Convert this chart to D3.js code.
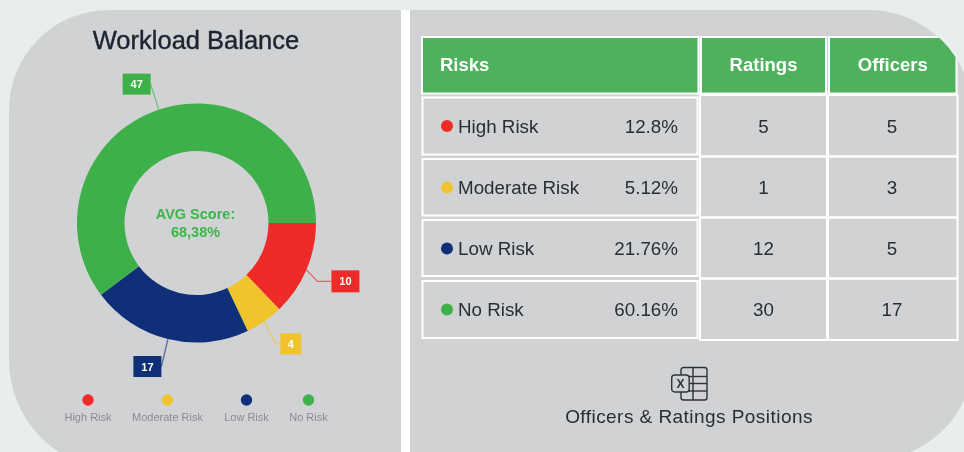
<!DOCTYPE html>
<html>
<head>
<meta charset="utf-8">
<script src="https://d3js.org/d3.v7.min.js"></script>
<style>
  html, body { margin: 0; padding: 0; background: #e8eeec; overflow: hidden; }
  svg { display: block; filter: blur(0.4px); }
  text { font-family: "Liberation Sans", sans-serif; }
</style>
</head>
<body>
<svg class="target" width="964" height="452"></svg>
<script>

// data
const risks = ['High Risk', 'Moderate Risk', 'Low Risk', 'No Risk']
const counts = [10, 4, 17, 47]
const shares = ['12.8%', '5.12%', '21.76%', '60.16%']
const ratings = [5, 1, 12, 30]
const officers = [5, 3, 5, 17]
const columns = ['Risks', 'Ratings', 'Officers']
const title = 'Workload Balance'
const centerLabel = ['AVG Score:', '68,38%']
const caption = 'Officers & Ratings Positions'

const riskColor = d3.scaleOrdinal(risks, ['#ee2b28', '#f1c42d', '#0f3079', '#3db049'])

const width = 964
const height = 452
const svg = d3.select('.target')

// rounded panel outline, corners given as [tl, tr, br, bl]
const panelPath = (x0, y0, x1, y1, r) => {
  const p = d3.path()
  p.moveTo(x0 + r[0], y0)
  p.lineTo(x1 - r[1], y0)
  p.arcTo(x1, y0, x1, y0 + r[1], r[1])
  p.lineTo(x1, y1 - r[2])
  p.arcTo(x1, y1, x1 - r[2], y1, r[2])
  p.lineTo(x0 + r[3], y1)
  p.arcTo(x0, y1, x0, y1 - r[3], r[3])
  p.lineTo(x0, y0 + r[0])
  p.arcTo(x0, y0, x0 + r[0], y0, r[0])
  p.closePath()
  return p.toString()
}

const leftPanel = panelPath(9, 10, 401, 470, [100, 0, 0, 110])
const rightPanel = panelPath(410, 10, 973, 460, [0, 105, 102, 0])

svg.append('path').attr('d', leftPanel).attr('fill', '#d1d2d4')
svg.append('path').attr('d', rightPanel).attr('fill', '#d1d2d4')
svg.append('rect').attr('x', 401).attr('y', 10).attr('width', 9).attr('height', 442).attr('fill', '#fff')
svg.append('clipPath').attr('id', 'right-clip').append('path').attr('d', rightPanel)

// ---- donut ----
const cx = 196.5, cy = 223, outer = 119.5, inner = 72

const pie = d3.pie().sort(null).startAngle(Math.PI / 2).endAngle(Math.PI * 2.5)
const arc = d3.arc().innerRadius(inner).outerRadius(outer)
const rim = d3.arc().innerRadius(outer).outerRadius(outer)
const slices = pie(counts)

svg.append('text')
  .attr('x', 196).attr('y', 48.5)
  .attr('text-anchor', 'middle')
  .attr('font-size', 25.5)
  .attr('fill', '#1b2430')
  .attr('stroke', '#1b2430')
  .attr('stroke-width', 0.4)
  .text(title)

const donut = svg.append('g').attr('transform', `translate(${cx},${cy})`)

donut.selectAll('path.slice')
  .data(slices)
  .join('path')
    .attr('class', 'slice')
    .attr('d', arc)
    .attr('fill', (d, i) => riskColor(risks[i]))

donut.selectAll('text.center')
  .data(centerLabel)
  .join('text')
    .attr('class', 'center')
    .attr('text-anchor', 'middle')
    .attr('x', -1)
    .attr('y', (d, i) => -4 + i * 18)
    .attr('font-size', 14.5)
    .attr('font-weight', 'bold')
    .attr('fill', '#3db54a')
    .text(d => d)

// callouts: label box placed relative to where the leader leaves the ring
const callouts = [
  { dx: 25, dy: 0.5, w: 28, h: 22, side: 'left', elbow: 11 },
  { dx: 16, dy: 12, w: 21, h: 21, side: 'left', elbow: 11 },
  { dx: -34.5, dy: 17, w: 28, h: 21, side: 'right', elbow: 0 },
  { dx: -36, dy: -36, w: 28, h: 21, side: 'right', elbow: 0 }
]

slices.forEach((s, i) => {
  const c = callouts[i]
  const color = riskColor(risks[i])
  const [sx, sy] = rim.centroid(s)
  const bx = sx + c.dx
  const by = sy + c.dy
  const ey = by + c.h / 2
  const ex = c.side === 'left' ? bx : bx + c.w
  const pts = c.elbow ? [[sx, sy], [sx + c.elbow, ey], [ex, ey]] : [[sx, sy], [ex, ey]]

  donut.append('path')
    .attr('d', d3.line()(pts))
    .attr('fill', 'none')
    .attr('stroke', color)
    .attr('stroke-opacity', 0.65)
    .attr('stroke-width', 1.3)

  donut.append('rect')
    .attr('x', bx).attr('y', by)
    .attr('width', c.w).attr('height', c.h)
    .attr('fill', color)

  donut.append('text')
    .attr('x', bx + c.w / 2).attr('y', by + c.h / 2 + 4)
    .attr('text-anchor', 'middle')
    .attr('font-size', 11)
    .attr('font-weight', 'bold')
    .attr('fill', '#fff')
    .text(counts[i])
})

// legend
const legendX = [88, 167.5, 246.5, 308.5]
const legend = svg.append('g').selectAll('g')
  .data(risks)
  .join('g')
    .attr('transform', (d, i) => `translate(${legendX[i]},400)`)

legend.append('circle').attr('r', 5.7).attr('fill', d => riskColor(d))
legend.append('text')
  .attr('y', 20.5)
  .attr('text-anchor', 'middle')
  .attr('font-size', 11)
  .attr('fill', '#8b8c8f')
  .text(d => d)

// ---- table ----
const table = svg.append('g').attr('clip-path', 'url(#right-clip)')

const colEdges = [[422, 698.5], [701, 826], [829, 956.5]]
const headTop = 37, headBottom = 93.5

table.selectAll('rect.head')
  .data(columns)
  .join('rect')
    .attr('class', 'head')
    .attr('x', (d, i) => colEdges[i][0])
    .attr('y', headTop)
    .attr('width', (d, i) => colEdges[i][1] - colEdges[i][0])
    .attr('height', headBottom - headTop)
    .attr('fill', '#4eb25c')
    .attr('stroke', '#fff')
    .attr('stroke-width', 2)

table.selectAll('text.head')
  .data(columns)
  .join('text')
    .attr('class', 'head')
    .attr('x', (d, i) => i === 0 ? 440 : (colEdges[i][0] + colEdges[i][1]) / 2)
    .attr('y', 71)
    .attr('text-anchor', (d, i) => i === 0 ? 'start' : 'middle')
    .attr('font-size', 18.5)
    .attr('font-weight', 'bold')
    .attr('fill', '#fff')
    .text(d => d)

const firstRows = [[97.5, 154.5], [159, 215.5], [220, 276], [281, 338]]
const otherRows = [[95, 156.5], [156.5, 217.5], [217.5, 278.5], [278.5, 340]]
const rowMid = [126, 187.5, 248.5, 309.5]
const cellLine = { fill: 'none', stroke: '#fff' }

risks.forEach((r, i) => {
  table.append('rect')
    .attr('x', 422.5).attr('y', firstRows[i][0])
    .attr('width', 275).attr('height', firstRows[i][1] - firstRows[i][0])
    .attr('fill', cellLine.fill).attr('stroke', cellLine.stroke).attr('stroke-width', 2)

  ;[1, 2].forEach(c => {
    table.append('rect')
      .attr('x', colEdges[c][0] - 1).attr('y', otherRows[i][0])
      .attr('width', colEdges[c][1] - colEdges[c][0] + 2).attr('height', otherRows[i][1] - otherRows[i][0])
      .attr('fill', cellLine.fill).attr('stroke', cellLine.stroke).attr('stroke-width', 2)
  })

  table.append('circle')
    .attr('cx', 447).attr('cy', rowMid[i]).attr('r', 6)
    .attr('fill', riskColor(r))

  const cells = [
    { x: 458, anchor: 'start', t: r },
    { x: 678, anchor: 'end', t: shares[i] },
    { x: 763.5, anchor: 'middle', t: ratings[i] },
    { x: 892, anchor: 'middle', t: officers[i] }
  ]
  table.selectAll(null)
    .data(cells)
    .join('text')
      .attr('x', d => d.x)
      .attr('y', rowMid[i] + 6.5)
      .attr('text-anchor', d => d.anchor)
      .attr('font-size', 18.8)
      .attr('fill', '#2a2d33')
      .text(d => d.t)
})

// spreadsheet icon and caption
const icon = svg.append('g')
  .attr('transform', 'translate(671,367)')
  .attr('fill', 'none')
  .attr('stroke', '#2f3237')
  .attr('stroke-width', 1.4)

icon.append('rect').attr('x', 10).attr('y', 0.5).attr('width', 26).attr('height', 32.5).attr('rx', 2.5)
;[9.5, 16.5, 24].forEach(y => icon.append('line').attr('x1', 18).attr('x2', 36).attr('y1', y).attr('y2', y))
icon.append('line').attr('x1', 22).attr('x2', 22).attr('y1', 0.5).attr('y2', 33)
icon.append('rect').attr('x', 0.7).attr('y', 8).attr('width', 17.5).attr('height', 17).attr('rx', 3)
  .attr('fill', '#d1d2d4')
icon.append('text')
  .attr('x', 9.5).attr('y', 21)
  .attr('text-anchor', 'middle')
  .attr('font-size', 12)
  .attr('font-weight', 'bold')
  .attr('stroke', 'none')
  .attr('fill', '#2f3237')
  .text('X')

svg.append('text')
  .attr('x', 689).attr('y', 422.5)
  .attr('text-anchor', 'middle')
  .attr('font-size', 19)
  .attr('letter-spacing', 0.45)
  .attr('fill', '#2a2d33')
  .text(caption)

</script>
</body>
</html>
